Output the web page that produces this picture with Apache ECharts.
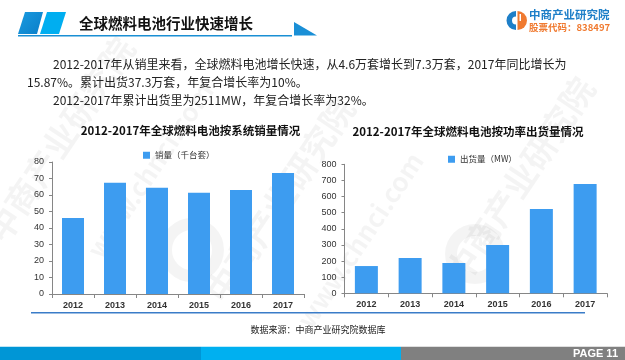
<!DOCTYPE html>
<html>
<head>
<meta charset="utf-8">
<script src="https://cdn.jsdelivr.net/npm/echarts@6/dist/echarts.min.js"></script>
<style>
html,body{margin:0;padding:0;background:#fff;}
#main{width:625px;height:360px;}
</style>
</head>
<body>
<div id="main"></div>
<script>
const years = ['2012', '2013', '2014', '2015', '2016', '2017'];
const salesName = '销量（千台套）';
const salesValues = [46, 67.4, 64.4, 61.4, 63, 73.3];
const shipName = '出货量（MW）';
const shipValues = [169, 219, 188, 300, 523, 678];
const headerTitle = '全球燃料电池行业快速增长';
const para1 = '2012-2017年从销里来看，全球燃料电池增长快速，从4.6万套增长到7.3万套，2017年同比增长为';
const para2 = '15.87%。累计出货37.3万套，年复合增长率为10%。';
const para3 = '2012-2017年累计出货里为2511MW，年复合增长率为32%。';
const leftTitle = '2012-2017年全球燃料电池按系统销量情况';
const rightTitle = '2012-2017年全球燃料电池按功率出货量情况';
const sourceText = '数据来源：中商产业研究院数据库';
const pageText = 'PAGE 11';

const CJK = '"Noto Sans CJK SC", "Noto Sans", sans-serif';
const BAR = '#3d9cf0';
const AX = '#868686';

const chart = echarts.init(document.getElementById('main'), null, {renderer: 'canvas'});

function axisX(gridIndex) {
  return {
    type: 'category', gridIndex, data: years,
    axisLine: {lineStyle: {color: AX, width: 1}},
    axisTick: {show: true, length: 4, lineStyle: {color: AX}},
    axisLabel: {fontSize: 9, color: '#333', margin: 7, fontFamily: 'Liberation Sans, Arial', fontWeight: 'bold'}
  };
}
function axisY(gridIndex, max, interval) {
  return {
    type: 'value', gridIndex, min: 0, max, interval,
    axisLine: {show: true, lineStyle: {color: AX, width: 1}},
    axisTick: {show: true, length: 3, lineStyle: {color: AX}},
    splitLine: {show: false},
    axisLabel: {fontSize: 9, color: '#333', margin: 8, fontFamily: 'Liberation Sans, Arial'}
  };
}

const wm = 'rgba(0,0,0,0.045)';
function wmText(x, y, text, size, rot) {
  return {type: 'text', x, y, rotation: rot, silent: true, z: 0,
    style: {text, fill: wm, font: 'bold ' + size + 'px ' + CJK, textAlign: 'center', textVerticalAlign: 'middle'}};
}

const option = {
  animation: false,
  backgroundColor: '#fff',
  grid: [
    {left: 52, right: 321, top: 162, bottom: 66},
    {left: 344.5, right: 18, top: 164.3, bottom: 66.7}
  ],
  xAxis: [axisX(0), axisX(1)],
  yAxis: [axisY(0, 80, 10), axisY(1, 800, 100)],
  legend: [
    {data: [salesName], left: 138, top: 146, itemWidth: 7, itemHeight: 7, icon: 'rect',
     textStyle: {fontSize: 8.5, color: '#333', fontFamily: CJK}},
    {data: [shipName], left: 443, top: 150, itemWidth: 7, itemHeight: 7, icon: 'rect',
     textStyle: {fontSize: 8.5, color: '#333', fontFamily: CJK}}
  ],
  series: [
    {name: salesName, type: 'bar', xAxisIndex: 0, yAxisIndex: 0, data: salesValues,
     barWidth: 22, itemStyle: {color: BAR}},
    {name: shipName, type: 'bar', xAxisIndex: 1, yAxisIndex: 1, data: shipValues,
     barWidth: 23, itemStyle: {color: BAR}}
  ],
  graphic: [
    // watermarks
    wmText(60, 140, '中商产业研究院', 34, Math.PI / 3.2),
    wmText(150, 170, 'www.chnci.com', 26, Math.PI / 3.2),
    wmText(280, 200, '中商产业研究院', 34, Math.PI / 3.2),
    wmText(360, 240, 'www.chnci.com', 26, Math.PI / 3.2),
    wmText(520, 180, '中商产业研究院', 34, Math.PI / 3.2),
    {type: 'circle', silent: true, z: 0, shape: {cx: 192, cy: 250, r: 26}, style: {fill: 'none', stroke: wm, lineWidth: 12}},
    {type: 'circle', silent: true, z: 0, shape: {cx: 475, cy: 254, r: 24}, style: {fill: 'none', stroke: wm, lineWidth: 12}},
    // header
    {type: 'polygon', shape: {points: [[25, 12], [43, 12], [37, 34], [18, 34]]},
     style: {fill: new echarts.graphic.LinearGradient(0, 0, 1, 1, [{offset: 0, color: '#1a9be0'}, {offset: 1, color: '#0a7ec8'}])}},
    {type: 'polygon', shape: {points: [[47, 12], [66, 12], [59, 34], [40, 34]]}, style: {fill: '#00aef0'}},
    {type: 'line', shape: {x1: 18, y1: 35.7, x2: 292, y2: 35.7}, style: {stroke: '#1a8fd4', lineWidth: 1.5}},
    {type: 'polygon', shape: {points: [[294, 22], [294, 35.5], [317, 35.5]]}, style: {fill: '#1a8fd6'}},
    {type: 'text', x: 79, y: 23, style: {text: headerTitle, font: 'bold 14.5px ' + CJK, fill: '#111', textVerticalAlign: 'middle'}},
    // logo
    {type: 'sector', shape: {cx: 516, cy: 20.5, r: 9.5, r0: 4, startAngle: Math.PI / 2, endAngle: Math.PI * 1.5}, style: {fill: '#1e7fc8'}},
    {type: 'sector', shape: {cx: 517.5, cy: 20.5, r: 9.5, r0: 0, startAngle: -Math.PI / 2, endAngle: Math.PI / 2}, style: {fill: '#f07a30'}},
    {type: 'rect', shape: {x: 519.5, y: 14, width: 1.5, height: 7}, style: {fill: '#fff'}},
    {type: 'text', x: 529, y: 15, style: {text: '中商产业研究院', font: 'bold 11.5px ' + CJK, fill: '#1e7fc8', textVerticalAlign: 'middle'}},
    {type: 'text', x: 529, y: 27, style: {text: '股票代码：838497', font: 'bold 9.5px ' + CJK, fill: '#f07a30', textVerticalAlign: 'middle'}},
    // paragraph
    {type: 'text', x: 53, y: 64, style: {text: para1, font: '12px ' + CJK, fill: '#222', textVerticalAlign: 'middle'}},
    {type: 'text', x: 27, y: 82, style: {text: para2, font: '12px ' + CJK, fill: '#222', textVerticalAlign: 'middle'}},
    {type: 'text', x: 53, y: 100, style: {text: para3, font: '12px ' + CJK, fill: '#222', textVerticalAlign: 'middle'}},
    // chart titles
    {type: 'text', x: 190.5, y: 131, style: {text: leftTitle, font: 'bold 11.5px ' + CJK, fill: '#111', textAlign: 'center', textVerticalAlign: 'middle'}},
    {type: 'text', x: 468, y: 132, style: {text: rightTitle, font: 'bold 11.5px ' + CJK, fill: '#111', textAlign: 'center', textVerticalAlign: 'middle'}},
    // separator line
    {type: 'line', shape: {x1: 31, y1: 312.7, x2: 585, y2: 312.7}, style: {stroke: '#3a7cc8', lineWidth: 1.5}},
    // source
    {type: 'text', x: 318, y: 330, style: {text: sourceText, font: '9px ' + CJK, fill: '#222', textAlign: 'center', textVerticalAlign: 'middle'}},
    // footer
    {type: 'rect', shape: {x: 0, y: 346.7, width: 201, height: 14}, style: {fill: '#0096d6'}},
    {type: 'rect', shape: {x: 201, y: 346.7, width: 200, height: 14}, style: {fill: '#00b0f0'}},
    {type: 'rect', shape: {x: 401, y: 346.7, width: 224, height: 14}, style: {fill: '#808080'}},
    {type: 'text', x: 618, y: 354, style: {text: pageText, font: 'bold 11px "Liberation Sans", Arial, sans-serif', fill: '#fff', textAlign: 'right', textVerticalAlign: 'middle'}}
  ]
};
chart.setOption(option);
</script>
</body>
</html>
